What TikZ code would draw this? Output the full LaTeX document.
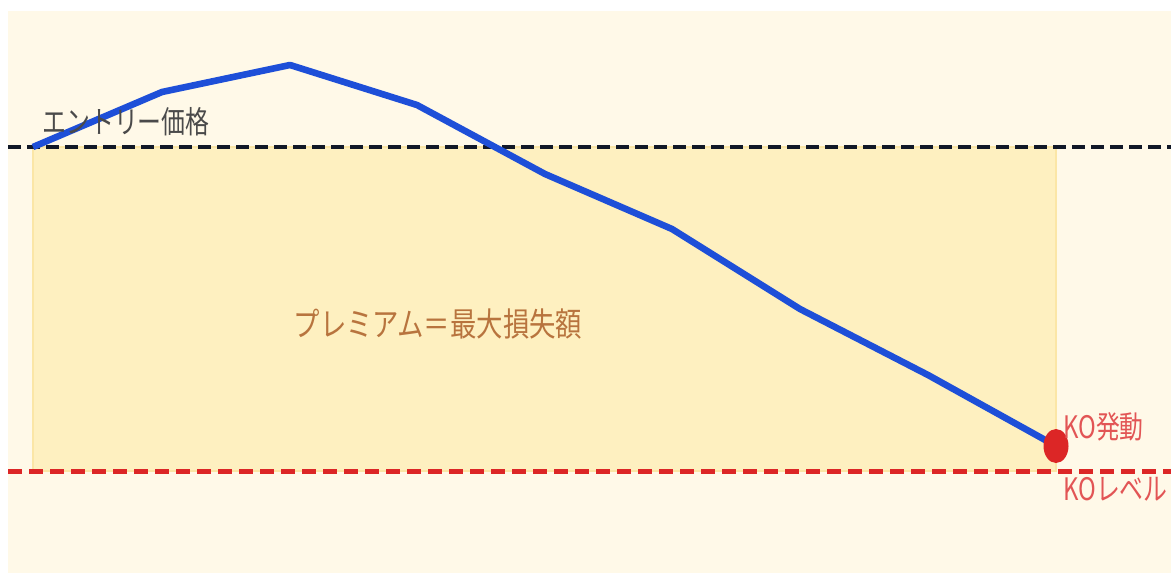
\documentclass[tikz,border=0pt]{standalone}
\usepackage{fontspec}
\setmainfont{Noto Sans CJK JP}
\usetikzlibrary{shapes.geometric}
\definecolor{creambg}{HTML}{FFF9E8}
\definecolor{premfill}{HTML}{FEF0C0}
\definecolor{premedge}{HTML}{FBE6A6}
\definecolor{pathblue}{HTML}{1E4FD8}
\definecolor{entryblack}{HTML}{111827}
\definecolor{kored}{HTML}{DC2626}
\definecolor{kotext}{HTML}{E25555}
\definecolor{entrygray}{HTML}{4A4A4A}
\definecolor{premtext}{HTML}{B8743E}
\tikzset{
  premiumbox/.style={fill=premfill, draw=premedge, line width=1pt},
  entryline/.style={draw=entryblack, line width=2.3pt, dash pattern=on 6.5pt off 3pt},
  koline/.style={draw=kored, line width=2.5pt, dash pattern=on 7pt off 3.5pt},
  pricepath/.style={draw=pathblue, line width=3.3pt, line join=round},
  kodot/.style={ellipse, fill=kored, inner sep=0pt, minimum width=12.5pt, minimum height=17pt},
  lbl/.style={inner sep=0pt, font=\fontsize{15.5}{18}\selectfont}
}
\begin{document}
\begin{tikzpicture}[x=0.5pt,y=-0.5pt]
    \useasboundingbox (0,0) rectangle (1171,573);
    \fill[creambg] (8,11) rectangle (1171,573);
    \draw[premiumbox] (33,147) rectangle (1056,471);
    % entry and KO levels
    \coordinate (entryL) at (8,147);
    \coordinate (entryR) at (1171,147);
    \coordinate (koL) at (8,471);
    \coordinate (koR) at (1171,471);
    \draw[entryline] (entryL) -- (entryR);
    \draw[koline] (koL) -- (koR);
    % price path
    \foreach \i/\x/\y in {0/33/147,1/162/92,2/290/65,3/417/105,4/545/174,5/672/229,6/800/309,7/928/375,8/1056/446} { \coordinate (p\i) at (\x,\y); }
    \draw[pricepath] (p0) \foreach \i in {1,...,8} { -- (p\i) };
    \node[kodot] (ko) at (p8) {};
    % labels
    \node[lbl, text=entrygray, anchor=west] (entry) at (42,122) {\scalebox{0.77}[1]{エントリー価格}};
    \node[lbl, text=premtext, font=\fontsize{16.5}{19}\selectfont] (premium) at (438,324) {\scalebox{0.8}[1]{プレミアム＝最大損失額}};
    \node[lbl, text=kotext, anchor=west] (kohit) at (1063,427) {\scalebox{0.77}[1]{KO発動}};
    \node[lbl, text=kotext, anchor=west] (kolevel) at (1063,489) {\scalebox{0.77}[1]{KOレベル}};
\end{tikzpicture}
\end{document}
